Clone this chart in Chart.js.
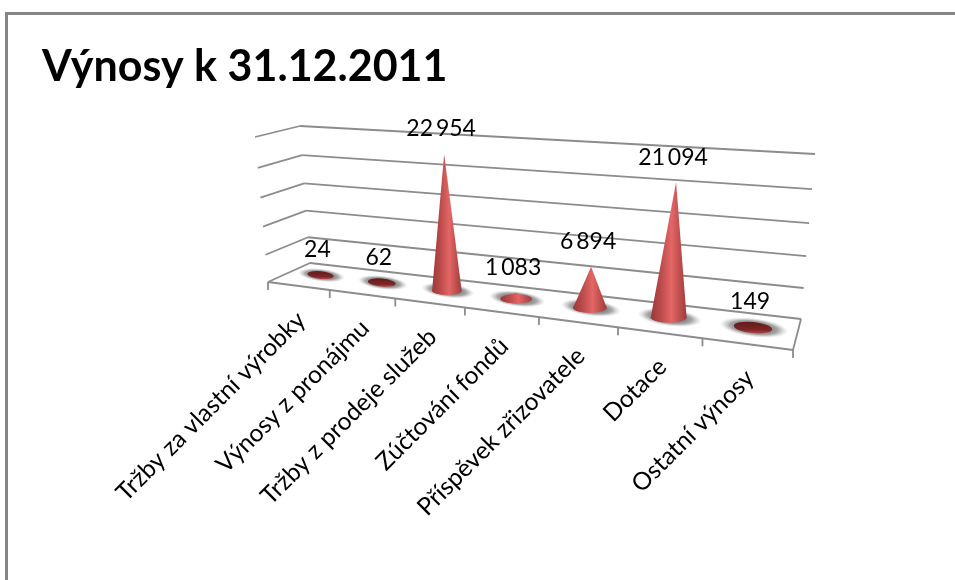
<!DOCTYPE html>
<html lang="cs">
<head>
<meta charset="utf-8">
<title>Výnosy k 31.12.2011</title>
<script src="https://cdn.jsdelivr.net/npm/chart.js@4/dist/chart.umd.js"></script>
<style>
  html, body { margin: 0; padding: 0; background: #fff; }
  canvas { display: block; }
</style>
</head>
<body>
<canvas id="chart" width="955" height="580"></canvas>
<script>
const categories = [
  'Tržby za vlastní výrobky',
  'Výnosy z pronájmu',
  'Tržby z prodeje služeb',
  'Zúčtování fondů',
  'Příspěvek zřizovatele',
  'Dotace',
  'Ostatní výnosy'
];
const revenues = [24, 62, 22954, 1083, 6894, 21094, 149];
const axisMin = 0;
const axisMax = 25000;
const axisStep = 5000;

// Corners of the 3D floor and how far the walls rise from each of them
const floor = { fl: [268, 282], fr: [793, 350], bl: [310, 263], br: [801, 319] };
const rise = { fl: [-13, -145], fr: [18, -175], bl: [-10, -137], br: [14, -165] };
const widthPerspective = 0.25;
const heightPerspective = 0.08;
const coneDepth = 0.55;
const lineColor = '#8c8c8c';
const fontFamily = 'Lato, "Open Sans", sans-serif';

function bilinear(corners, axis, u, d) {
  return (1 - d) * ((1 - u) * corners.fl[axis] + u * corners.fr[axis]) +
    d * ((1 - u) * corners.bl[axis] + u * corners.br[axis]);
}

/**
 * Project u (along categories), d (depth), v (share of the value axis) to the page
 */
function project(u, d, v) {
  const s = u / (1 + widthPerspective * (1 - u));
  const t = v / (1 + heightPerspective * (1 - v));
  return {
    x: bilinear(floor, 0, s, d) + bilinear(rise, 0, s, d) * t,
    y: bilinear(floor, 1, s, d) + bilinear(rise, 1, s, d) * t
  };
}

function line(ctx, a, b) {
  ctx.beginPath();
  ctx.moveTo(a.x, a.y);
  ctx.lineTo(b.x, b.y);
  ctx.stroke();
}

function formatValue(value) {
  return String(value).replace(/\B(?=(\d{3})+$)/g, '\u2009');
}

function drawShadow(ctx, base, rx, ry) {
  ctx.save();
  ctx.translate(base.x + 1, base.y);
  ctx.rotate(0.12);
  ctx.scale(rx * 1.8, ry * 1.7);
  const glow = ctx.createRadialGradient(0, 0, 0.25, 0, 0, 1);
  glow.addColorStop(0, 'rgba(70,70,70,0.9)');
  glow.addColorStop(0.6, 'rgba(110,110,110,0.6)');
  glow.addColorStop(1, 'rgba(170,170,170,0)');
  ctx.fillStyle = glow;
  ctx.beginPath();
  ctx.arc(0, 0, 1, 0, Math.PI * 2);
  ctx.fill();
  ctx.restore();
}

function drawCone(ctx, base, apex, rx, ry) {
  if (base.y - apex.y < ry) {
    // Too low to show a body, only the disc is visible
    const disc = ctx.createLinearGradient(0, base.y - ry, 0, base.y + ry);
    disc.addColorStop(0, '#641c1c');
    disc.addColorStop(0.7, '#7d2626');
    disc.addColorStop(1, '#b04242');
    ctx.fillStyle = disc;
    ctx.beginPath();
    ctx.ellipse(base.x, base.y, rx, ry, 0.1, 0, Math.PI * 2);
    ctx.fill();
    return;
  }
  const body = ctx.createLinearGradient(base.x - rx, 0, base.x + rx, 0);
  body.addColorStop(0, '#9c3838');
  body.addColorStop(0.25, '#b84848');
  body.addColorStop(0.58, '#e46666');
  body.addColorStop(0.85, '#b84a4a');
  body.addColorStop(1, '#a03c3c');
  ctx.fillStyle = body;
  ctx.beginPath();
  ctx.moveTo(apex.x, apex.y);
  ctx.lineTo(base.x + rx, base.y);
  ctx.ellipse(base.x, base.y, rx, ry, 0, 0, Math.PI);
  ctx.closePath();
  ctx.fill();
  // Short cones keep the whole disc under the body
  ctx.beginPath();
  ctx.ellipse(base.x, base.y, rx, ry, 0, 0, Math.PI * 2);
  ctx.fill();
}

const frame3d = {
  id: 'frame3d',
  beforeDatasetsDraw(chart) {
    const { ctx, chartArea: area, scales: { x, y } } = chart;
    ctx.save();

    // Outer slide border
    ctx.strokeStyle = '#868686';
    ctx.lineWidth = 3;
    ctx.beginPath();
    ctx.moveTo(6.5, 590);
    ctx.lineTo(6.5, 13.5);
    ctx.lineTo(965, 13.5);
    ctx.stroke();

    // Walls, one line per value axis tick
    ctx.strokeStyle = lineColor;
    ctx.lineWidth = 1.8;
    y.ticks.forEach(tick => {
      const v = (area.bottom - y.getPixelForValue(tick.value)) / area.height;
      const corner = project(0, 1, v);
      line(ctx, project(0, 0, v), corner);
      line(ctx, corner, project(1, 1, v));
    });

    // Floor edges and tick marks between the categories
    line(ctx, project(0, 0, 0), project(1, 0, 0));
    line(ctx, project(1, 0, 0), project(1, 1, 0));
    const step = x.getPixelForValue(1) - x.getPixelForValue(0);
    for (let i = 0; i <= categories.length; i++) {
      const u = (x.getPixelForValue(0) - step / 2 + i * step - area.left) / area.width;
      const p = project(u, 0, 0);
      line(ctx, p, { x: p.x, y: p.y + 8 });
    }
    ctx.restore();
  },
  afterDatasetsDraw(chart) {
    const { ctx, chartArea: area } = chart;
    const bars = chart.getDatasetMeta(0).data;
    const spots = bars.map(bar => {
      const u = (bar.x - area.left) / area.width;
      const half = bar.width / 2 / area.width;
      const base = project(u, coneDepth, 0);
      const rx = (project(u + half, coneDepth, 0).x - project(u - half, coneDepth, 0).x) / 2;
      const apex = project(u, coneDepth, (area.bottom - bar.y) / area.height);
      return { u, base, apex, rx, ry: rx * 0.29 };
    });

    ctx.save();
    spots.forEach(s => drawShadow(ctx, s.base, s.rx, s.ry));
    spots.forEach(s => drawCone(ctx, s.base, s.apex, s.rx, s.ry));

    // Value labels above the tips
    ctx.fillStyle = '#000';
    ctx.font = '23px ' + fontFamily;
    ctx.textAlign = 'center';
    ctx.textBaseline = 'middle';
    spots.forEach((s, i) => {
      ctx.fillText(formatValue(revenues[i]), s.apex.x - 3, s.apex.y - 25);
    });

    // Category labels under the front edge
    ctx.font = '24.5px ' + fontFamily;
    ctx.textAlign = 'right';
    spots.forEach((s, i) => {
      const p = project(s.u, 0, 0);
      ctx.save();
      ctx.translate(p.x + 3, p.y + 30);
      ctx.rotate(-Math.PI / 4);
      ctx.fillText(categories[i], 0, 0);
      ctx.restore();
    });
    ctx.restore();
  }
};

new Chart(document.getElementById('chart'), {
  type: 'bar',
  data: {
    labels: categories,
    datasets: [{
      data: revenues,
      backgroundColor: 'rgba(0,0,0,0)',
      borderWidth: 0,
      barPercentage: 0.44,
      categoryPercentage: 1
    }]
  },
  options: {
    responsive: false,
    animation: false,
    layout: { padding: { left: 42 } },
    plugins: {
      legend: { display: false },
      tooltip: { enabled: false },
      title: {
        display: true,
        text: 'Výnosy k 31.12.2011',
        align: 'start',
        color: '#000',
        font: { family: fontFamily, size: 43, weight: 'bold' },
        padding: { top: 41, bottom: 10 }
      }
    },
    scales: {
      x: { display: false, grid: { display: false } },
      y: {
        display: false,
        min: axisMin,
        max: axisMax,
        ticks: { stepSize: axisStep }
      }
    }
  },
  plugins: [frame3d]
});
</script>
</body>
</html>
